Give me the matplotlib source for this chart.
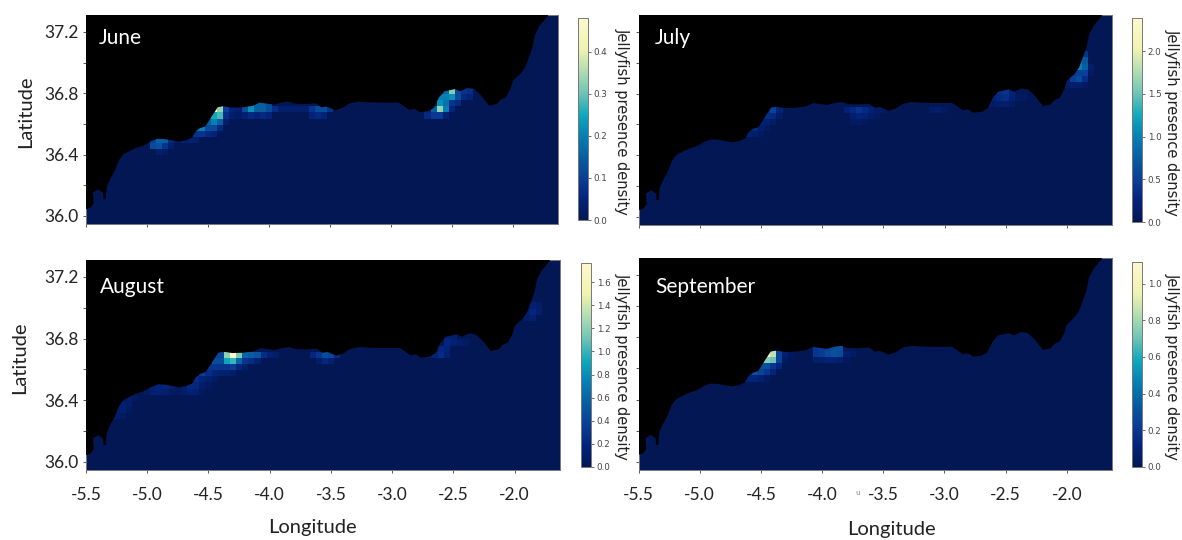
import numpy as np
import matplotlib
matplotlib.use('Agg')
import matplotlib.pyplot as plt
from matplotlib.colors import LinearSegmentedColormap

# coastline, everything north of it is land (black)
coast_lon = [-5.50, -5.46, -5.437, -5.44, -5.445, -5.40, -5.36, -5.356, -5.34, -5.33, -5.30, -5.264, -5.23,
             -5.194, -5.142, -5.085, -5.027, -4.97, -4.912, -4.854, -4.796, -4.739, -4.681, -4.629, -4.606,
             -4.566, -4.522, -4.465, -4.42, -4.378, -4.306, -4.22, -4.133, -4.076, -4.018, -3.96, -3.90,
             -3.845, -3.787, -3.715, -3.614, -3.571, -3.528, -3.456, -3.398, -3.34, -3.268, -3.18, -3.095,
             -3.01, -2.937, -2.879, -2.85, -2.807, -2.764, -2.692, -2.648, -2.605, -2.562, -2.475, -2.432,
             -2.374, -2.317, -2.259, -2.195, -2.13, -2.10, -2.057, -2.02, -2.00, -1.936, -1.90, -1.87,
             -1.84, -1.818, -1.783, -1.726, -1.70]
coast_lat = [36.043, 36.056, 36.082, 36.125, 36.151, 36.173, 36.151, 36.108, 36.108, 36.19, 36.244, 36.294, 36.363,
             36.402, 36.423, 36.445, 36.458, 36.486, 36.503, 36.501, 36.492, 36.484, 36.492, 36.51, 36.546,
             36.572, 36.583, 36.654, 36.708, 36.715, 36.706, 36.708, 36.717, 36.739, 36.732, 36.726, 36.739,
             36.745, 36.732, 36.73, 36.734, 36.708, 36.713, 36.689, 36.704, 36.734, 36.745, 36.741, 36.739,
             36.739, 36.739, 36.708, 36.691, 36.698, 36.676, 36.683, 36.704, 36.773, 36.812, 36.827, 36.812,
             36.834, 36.827, 36.784, 36.719, 36.73, 36.758, 36.773, 36.827, 36.881, 36.929, 36.968, 37.032,
             37.097, 37.184, 37.238, 37.292, 37.32]

# density cells: (lat, first lon, values going east in 0.05 deg steps), all other cells are 0
june_cells = [
    (36.815, -2.55, [.17, .32, .12, .08, .07]),
    (36.775, -2.60, [.20, .20, .22, .12, .06, .05]),
    (36.735, -4.40, [.30]),
    (36.735, -4.15, [.20, .15, .15, .12]),
    (36.735, -2.60, [.22, .18, .08, .06]),
    (36.695, -4.45, [.48, .33, .10, .05, .03, .12, .22, .15, .15, .12, .07, .03, .03, .03, .03, .03, .08, .12, .12, .08]),
    (36.695, -2.70, [.05, .15, .33, .20, .05]),
    (36.655, -4.50, [.22, .25, .28, .07, .03, .02, .04, .06, .05, .06, .05]),
    (36.655, -3.65, [.05, .06, .05]),
    (36.655, -2.70, [.06, .09, .09, .04]),
    (36.615, -4.50, [.15, .20, .15, .03]),
    (36.575, -4.60, [.20, .20, .12, .12, .06]),
    (36.535, -4.65, [.10, .08, .08, .06, .05]),
    (36.495, -4.95, [.10, .15, .15, .06, .02, .04, .04, .03]),
    (36.455, -4.95, [.12, .13, .08, .03]),
    (36.415, -4.90, [.03, .02]),
]
july_cells = [
    (37.055, -1.85, [.40]),
    (37.015, -1.90, [.90, .70]),
    (36.975, -1.90, [1.00, .75, .15]),
    (36.935, -1.95, [.40, .50, .50, .10]),
    (36.895, -2.00, [.20, .50, .60, .35]),
    (36.855, -2.00, [.10, .15, .15, .10]),
    (36.815, -2.55, [.35, .40, .25]),
    (36.775, -2.60, [.20, .30, .35, .20, .10, .08]),
    (36.735, -2.60, [.12, .15, .15, .10]),
    (36.695, -4.45, [.30, .55, .25]),
    (36.695, -3.80, [.20, .30, .40, .30, .20, .12, .10]),
    (36.695, -3.10, [.12, .15, .08]),
    (36.655, -4.45, [.35, .30, .12]),
    (36.655, -3.75, [.15, .25, .20, .12, .08]),
    (36.615, -4.50, [.20, .20, .12]),
    (36.615, -3.75, [.08, .10, .06]),
    (36.575, -4.60, [.30, .30, .15, .08]),
    (36.535, -4.60, [.20, .15, .08]),
]
august_cells = [
    (37.015, -1.85, [.15, .10]),
    (36.975, -1.90, [.12, .20, .12]),
    (36.935, -1.90, [.10, .12]),
    (36.815, -2.55, [.15, .12]),
    (36.775, -2.55, [.20, .15, .10, .08]),
    (36.735, -2.60, [.20, .18]),
    (36.695, -4.45, [.40, .40, 1.20, 1.75, 1.15, .60, .55, .50, .25, .15, .10]),
    (36.695, -3.65, [.20, .30, .45, .40, .25]),
    (36.695, -2.70, [.10, .18, .25, .15]),
    (36.655, -4.45, [.45, .45, .90, 1.00, .60, .30, .25, .15]),
    (36.655, -3.60, [.10, .20, .15]),
    (36.615, -4.50, [.30, .30, .30, .30, .35, .20, .10]),
    (36.575, -4.55, [.35, .25, .18, .15, .13, .10]),
    (36.535, -4.65, [.25, .25, .18, .12, .08]),
    (36.495, -4.95, [.12, .18, .20, .12, .06, .10, .22, .20, .10, .06]),
    (36.455, -5.00, [.08, .12, .14, .12, .08, .06, .10, .15, .12, .06]),
    (36.415, -5.15, [.10, .06]),
    (36.375, -5.20, [.12, .10]),
    (36.335, -5.25, [.10, .13, .06]),
    (36.295, -5.25, [.10, .08]),
]
september_cells = [
    (36.735, -4.40, [.60]),
    (36.735, -4.05, [.20, .22, .25, .30, .30]),
    (36.695, -4.45, [1.10, .85, .25, .08, .03]),
    (36.695, -4.05, [.20, .22, .28, .30, .28, .08, .05]),
    (36.655, -4.50, [.60, .75, .70, .25, .05]),
    (36.655, -4.05, [.07, .08, .10, .10, .08, .03]),
    (36.615, -4.50, [.30, .30, .20, .12]),
    (36.575, -4.60, [.25, .30, .25, .20, .12]),
    (36.535, -4.65, [.10, .12, .12, .08, .04]),
]

months = ['June', 'July', 'August', 'September']
all_cells = [june_cells, july_cells, august_cells, september_cells]
vmax_values = [0.48, 2.39, 1.765, 1.118]
cbar_ticks = [[0.0, 0.1, 0.2, 0.3, 0.4],
              [0.0, 0.5, 1.0, 1.5, 2.0],
              [0.0, 0.2, 0.4, 0.6, 0.8, 1.0, 1.2, 1.4, 1.6],
              [0.0, 0.2, 0.4, 0.6, 0.8, 1.0]]
lon_ticks = [-5.5, -5.0, -4.5, -4.0, -3.5, -3.0, -2.5, -2.0]
lat_ticks = [36.0, 36.2, 36.4, 36.6, 36.8, 37.0, 37.2]
lat_labels = ['36.0', '', '36.4', '', '36.8', '', '37.2']

# pixel boxes (left, top, right, bottom)
W, H = 1182, 540
map_boxes = [(86, 15, 558, 224), (639, 15, 1112, 225), (86, 260, 560, 470), (638.5, 258, 1112, 470)]
cbar_boxes = [(578, 18, 588, 220), (1132, 18, 1142, 222), (581, 263, 591, 467), (1132, 262, 1142, 467)]
month_pos = [(99, 38), (655, 38), (100, 287), (655, 287)]
cbar_label_pos = [(622, 121), (1172, 122), (622, 366), (1172, 366)]
label_font = 'Lato'
text_color = '#222222'

# YlGnBu_r look, a bit less purple at the low end
jelly_cmap = LinearSegmentedColormap.from_list('jelly', [
    (0.0, '#021754'), (0.1, '#03237a'), (0.2, '#0a3c96'), (0.3, '#075a9e'), (0.42, '#0681b5'),
    (0.52, '#0ea8bd'), (0.63, '#6fc4b5'), (0.75, '#b7dfb1'), (0.85, '#f0f3b0'), (1.0, '#fdf8cf')])


def add_box(fig, box):
    left, top, right, bottom = box
    return fig.add_axes([left / W, 1 - bottom / H, (right - left) / W, (bottom - top) / H])


def build_grid(cells, lon_edges, lat_edges):
    grid = np.zeros((len(lat_edges) - 1, len(lon_edges) - 1))
    for lat, lon, values in cells:
        row = int(round((lat - lat_edges[0] - 0.02) / 0.04))
        col = int(round((lon - lon_edges[0] - 0.025) / 0.05))
        grid[row, col:col + len(values)] = values
    return grid


lon_edges = np.arange(-5.525, -1.55, 0.05)
lat_edges = np.arange(35.915, 37.36, 0.04)

fig = plt.figure(figsize=(W / 100, H / 100), dpi=100)

for i, month in enumerate(months):
    ax = add_box(fig, map_boxes[i])
    grid = build_grid(all_cells[i], lon_edges, lat_edges)
    mesh = ax.pcolormesh(lon_edges, lat_edges, grid, cmap=jelly_cmap, vmin=0, vmax=vmax_values[i])
    # land on top of the mesh
    ax.fill(coast_lon + [-1.70, -5.6, -5.6], coast_lat + [37.4, 37.4, coast_lat[0]],
            color='black', lw=0, zorder=3)
    ax.set_xlim(-5.5, -1.63)
    ax.set_ylim(35.947, 37.31)
    ax.set_xticks(lon_ticks)
    ax.set_yticks(lat_ticks)
    ax.set_xticklabels([f'{t:.1f}' for t in lon_ticks] if i >= 2 else [], fontsize=12.5, family=label_font, color=text_color)
    ax.set_yticklabels(lat_labels if i % 2 == 0 else [], fontsize=12.5, family=label_font, color=text_color)
    ax.tick_params(axis='x', length=2, width=0.7, color='#555555', pad=10)
    ax.tick_params(axis='y', length=2, width=0.7, color='#555555', pad=3)
    for spine in ax.spines.values():
        spine.set_color('#777777')
        spine.set_linewidth(0.7)
    fig.text(month_pos[i][0] / W, 1 - month_pos[i][1] / H, month, color='white', fontsize=15, family=label_font,
             va='center', ha='left', zorder=5)

    cax = add_box(fig, cbar_boxes[i])
    cbar = fig.colorbar(mesh, cax=cax)
    cbar.set_ticks(cbar_ticks[i])
    cbar.ax.tick_params(labelsize=6.3, length=2, width=0.6, color='#555555', labelcolor='#444444', pad=2)
    cbar.outline.set_edgecolor('#777777')
    cbar.outline.set_linewidth(0.7)
    fig.text(cbar_label_pos[i][0] / W, 1 - cbar_label_pos[i][1] / H, 'Jellyfish presence density',
             rotation=270, fontsize=10.5, color=text_color, ha='center', va='center')

fig.text(26 / W, 1 - 112 / H, 'Latitude', rotation=90, fontsize=14.5, family=label_font, color=text_color, ha='center', va='center')
fig.text(20 / W, 1 - 358 / H, 'Latitude', rotation=90, fontsize=14.5, family=label_font, color=text_color, ha='center', va='center')
fig.text(312 / W, 1 - 527 / H, 'Longitude', fontsize=14.5, family=label_font, color=text_color, ha='center', va='center')
fig.text(891 / W, 1 - 530 / H, 'Longitude', fontsize=14.5, family=label_font, color=text_color, ha='center', va='center')
# stray mark left of the -3.5 label in the source figure
fig.text(858 / W, 1 - 493 / H, 'u', fontsize=5, color='#888888', ha='center', va='center')

fig.savefig('out.png', dpi=100)
